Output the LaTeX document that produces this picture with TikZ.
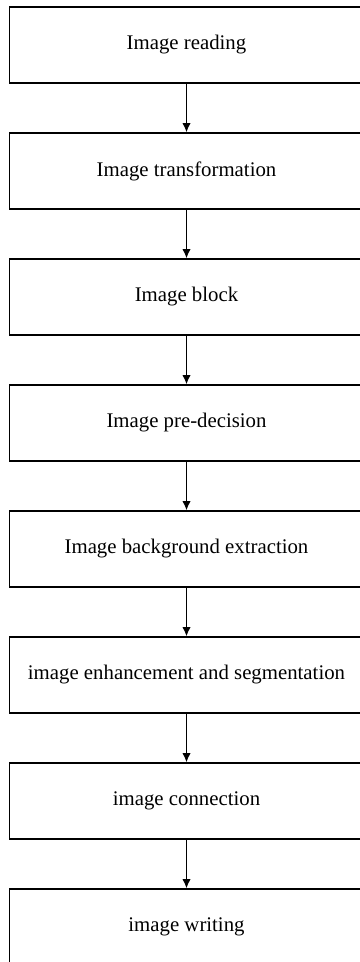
\documentclass[tikz,border=0pt]{standalone}
\usepackage{fontspec}
\setmainfont{Liberation Serif}
\usepackage{tikz}
\usetikzlibrary{arrows, arrows.meta, calc}

\begin{document}
\begin{tikzpicture}[x=0.5pt, y=-0.5pt, font=\fontsize{10.4}{12}\selectfont, >={Latex[length=4.6pt,width=4.2pt]}]
	\tikzset	{
		stepbox/.style={draw, line width=0.7pt, minimum width=177pt, minimum height=38pt, inner sep=0pt},
		flow/.style={->, line width=0.7pt},
	}
	\useasboundingbox (0,0) rectangle (359,962);
	\def\X{186.5}
	\def\H{126}

	\node[stepbox] (read)	at (\X,{45+0*\H})	{Image reading};
	\node[stepbox] (trans)	at (\X,{45+1*\H})	{Image transformation};
	\node[stepbox] (block)	at (\X,{45+2*\H})	{Image block};
	\node[stepbox] (pre)	at (\X,{45+3*\H})	{Image pre-decision};
	\node[stepbox] (back)	at (\X,{45+4*\H})	{Image background extraction};
	\node[stepbox] (enh)	at (\X,{45+5*\H})	{image enhancement and segmentation};
	\node[stepbox] (conn)	at (\X,{45+6*\H})	{image connection};
	\node[stepbox] (write)	at (\X,{45+7*\H})	{image writing};

	\foreach \a/\b in {read/trans, trans/block, block/pre, pre/back, back/enh, enh/conn, conn/write} {
		\draw[flow]	(\a) -- (\b);
	}
\end{tikzpicture}
\end{document}
